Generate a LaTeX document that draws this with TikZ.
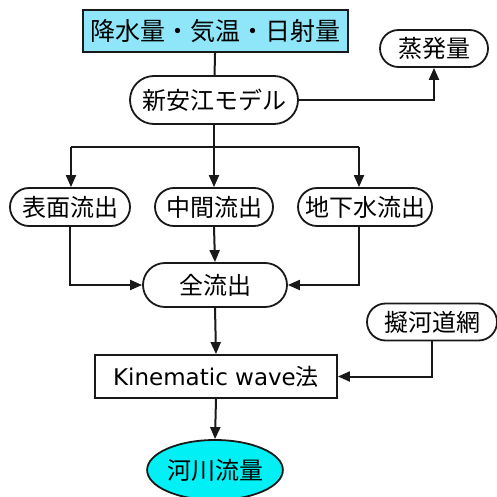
\documentclass[tikz,border=0pt]{standalone}
\usepackage{fontspec}
\setmainfont{DejaVu Sans}
\newfontfamily\jp{Noto Sans CJK JP}
\usetikzlibrary{shapes.misc,shapes.geometric,arrows.meta}
\definecolor{lightcy}{RGB}{142,230,248}
\definecolor{cy}{RGB}{0,240,245}
\begin{document}
\begin{tikzpicture}[x=1pt,y=-1pt,
  every node/.style={font=\fontsize{24}{26}\selectfont\jp, inner sep=0pt, line width=1.8pt, draw=black!90},
  pill/.style={rounded rectangle, minimum height=38pt},
  box/.style={rectangle},
  conn/.style={line width=2pt, draw=black!90},
  arr/.style={conn, -{Triangle[length=12pt,width=10pt]}}]
\useasboundingbox (0,0) rectangle (497,497);
\node[box, fill=lightcy, minimum width=265pt, minimum height=42pt, font=\fontsize{25}{27}\selectfont\jp] (top) at (215.5,31) {降水量・気温・日射量};
\node[pill, minimum width=108pt, minimum height=37pt] (evap) at (434,48.5) {蒸発量};
\node[pill, minimum width=168pt, minimum height=48pt] (model) at (214,100) {新安江モデル};
\node[pill, minimum width=120pt] (surf) at (70,207) {表面流出};
\node[pill, minimum width=118pt] (mid) at (214,207) {中間流出};
\node[pill, minimum width=134pt] (gw) at (365,207) {地下水流出};
\node[pill, minimum width=144pt, minimum height=44pt] (total) at (215,285) {全流出};
\node[pill, minimum width=130pt, minimum height=37pt] (net) at (432,322) {擬河道網};
\node[box, minimum width=242pt, minimum height=43pt] (kin) at (216,376.5) {\fontsize{23}{26}\selectfont\rmfamily Kinematic wave\jp 法};
\node[ellipse, fill=cy, minimum width=115pt, minimum height=60pt] (river) at (215,470) {河川流量};

\coordinate (br) at (214,147);
\coordinate (bl) at (71,147);
\coordinate (brr) at (359,147);
\draw[conn] (top) -- (model);
\draw[arr] (model.east) -| (evap.south);
\draw[conn] (model.south) -- (br);
\draw[conn] (bl) -- (brr);
\draw[arr] (bl) -- (bl |- surf.north);
\draw[arr] (br) -- (mid.north);
\draw[arr] (brr) -- (brr |- gw.north);
\draw[arr] (surf.south) |- (total.west);
\draw[arr] (mid.south) -- (total.north);
\draw[arr] ([xshift=-6pt]gw.south) |- (total.east);
\draw[arr] (total.south) -- (kin.north);
\draw[arr] (net.south) |- (kin.east);
\draw[arr] (kin.south) -- (river.north);
\end{tikzpicture}
\end{document}
